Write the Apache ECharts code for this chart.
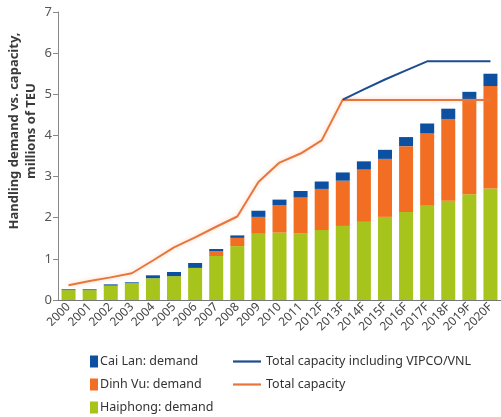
<!DOCTYPE html>
<html>
<head>
<meta charset="utf-8">
<script src="https://cdn.jsdelivr.net/npm/echarts@6/dist/echarts.min.js"></script>
<style>
  html, body { margin: 0; padding: 0; background: #fff; }
  #chart { width: 501px; height: 417px; }
</style>
</head>
<body>
<div id="chart"></div>
<script>
// years on the x axis
const years = ['2000', '2001', '2002', '2003', '2004', '2005', '2006', '2007', '2008', '2009', '2010',
  '2011', '2012F', '2013F', '2014F', '2015F', '2016F', '2017F', '2018F', '2019F', '2020F'];

// demand, millions of TEU (stacked)
const haiphong = [0.24, 0.24, 0.35, 0.41, 0.53, 0.58, 0.78, 1.07, 1.31, 1.61, 1.64,
  1.62, 1.70, 1.80, 1.90, 2.02, 2.14, 2.29, 2.41, 2.57, 2.71];
const dinhVu = [0, 0, 0, 0, 0, 0, 0, 0.12, 0.20, 0.41, 0.66,
  0.87, 1.00, 1.10, 1.27, 1.41, 1.60, 1.76, 1.99, 2.29, 2.49];
const caiLan = [0.02, 0.02, 0.03, 0.02, 0.07, 0.10, 0.12, 0.05, 0.06, 0.15, 0.14,
  0.16, 0.18, 0.20, 0.20, 0.22, 0.22, 0.24, 0.25, 0.20, 0.30];

// capacity lines
const totalCapacity = [0.36, 0.46, 0.55, 0.65, 0.96, 1.28, 1.52, 1.78, 2.03, 2.87, 3.34,
  3.56, 3.88, 4.87, 4.86, 4.86, 4.86, 4.86, 4.86, 4.86, 4.86];
const capacityVipco = [null, null, null, null, null, null, null, null, null, null, null,
  null, null, 4.87, 5.12, 5.36, 5.58, 5.80, 5.80, 5.80, 5.80];

const yTicks = [0, 7, 1]; // min, max, interval

const chart = echarts.init(document.getElementById('chart'));
const txt = '#444';
const font = 'Noto Sans';
const lineIcon = 'path://M0,0H28V2.2H0Z';

chart.setOption({
  animation: false,
  textStyle: { fontFamily: font },
  grid: { left: 58, right: 0, top: 12, bottom: 117 },
  legend: [
    {
      data: ['Cai Lan: demand', 'Dinh Vu: demand', 'Haiphong: demand'],
      orient: 'vertical',
      left: 90, top: 355, padding: 0,
      itemWidth: 8, itemHeight: 12, itemGap: 10,
      icon: 'rect',
      textStyle: { fontSize: 12.5, color: '#333', padding: [0, 0, 0, -3] }
    },
    {
      data: [
        { name: 'Total capacity including VIPCO/VNL', icon: lineIcon },
        { name: 'Total capacity', icon: lineIcon }
      ],
      orient: 'vertical',
      left: 233, top: 355, padding: 0,
      itemWidth: 28, itemHeight: 12, itemGap: 10,
      textStyle: { fontSize: 12.5, color: '#333' }
    }
  ],
  graphic: [{
    type: 'text',
    x: 23, y: 131,
    rotation: Math.PI / 2,
    style: {
      text: 'Handling demand vs. capacity,\nmillions of TEU',
      font: 'bold 13px "Noto Sans"',
      fill: '#3a3a3a',
      align: 'center',
      verticalAlign: 'middle',
      lineHeight: 17
    }
  }],
  xAxis: {
    type: 'category',
    data: years,
    axisLine: { lineStyle: { color: '#777' } },
    axisTick: { interval: 0, length: 5, lineStyle: { color: '#6670a0' } },
    axisLabel: { interval: 0, rotate: 45, fontSize: 12, color: txt, margin: 5 }
  },
  yAxis: {
    type: 'value',
    min: yTicks[0], max: yTicks[1], interval: yTicks[2],
    splitLine: { show: false },
    axisLine: { show: true, lineStyle: { color: '#888' } },
    axisTick: { show: true, length: 5, lineStyle: { color: '#888' } },
    axisLabel: { fontSize: 13, color: '#555', margin: 6 }
  },
  series: [
    {
      name: 'Haiphong: demand', type: 'bar', stack: 'demand',
      barWidth: 14, data: haiphong,
      itemStyle: { color: '#a6c41c' }
    },
    {
      name: 'Dinh Vu: demand', type: 'bar', stack: 'demand',
      barWidth: 14, data: dinhVu,
      itemStyle: { color: '#f26e22' }
    },
    {
      name: 'Cai Lan: demand', type: 'bar', stack: 'demand',
      barWidth: 14, data: caiLan,
      itemStyle: { color: '#0d4fa0' }
    },
    {
      name: 'Total capacity', type: 'line', data: totalCapacity,
      symbol: 'none', z: 5,
      itemStyle: { color: '#e8763c' },
      lineStyle: { width: 2, color: '#e8763c', shadowColor: 'rgba(240,150,90,0.45)', shadowBlur: 4 }
    },
    {
      name: 'Total capacity including VIPCO/VNL', type: 'line', data: capacityVipco,
      symbol: 'none', z: 5,
      itemStyle: { color: '#1d4c8f' },
      lineStyle: { width: 2, color: '#1d4c8f' }
    }
  ]
});
</script>
</body>
</html>
